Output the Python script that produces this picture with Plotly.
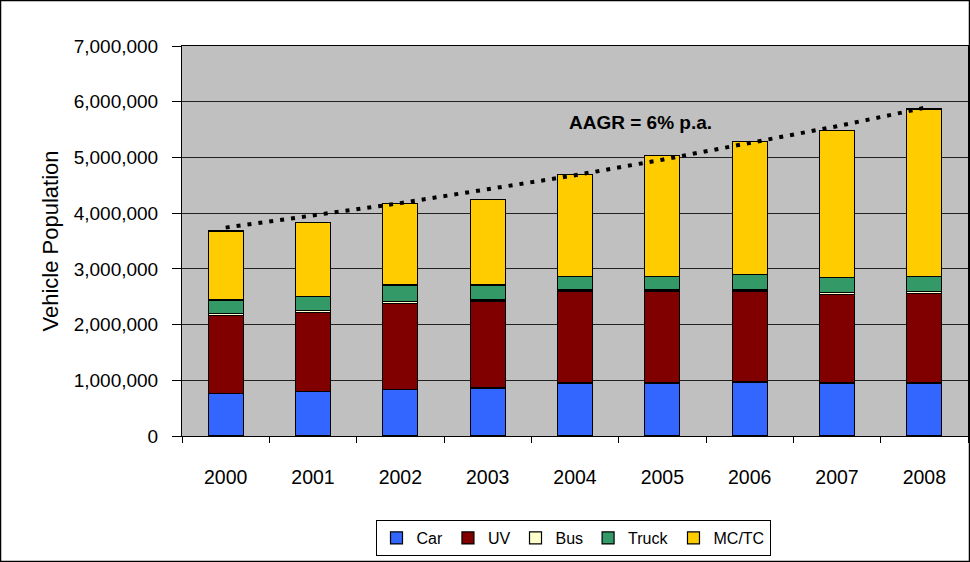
import plotly.graph_objects as go

years = ["2000", "2001", "2002", "2003", "2004", "2005", "2006", "2007", "2008"]
car = [770000, 800000, 830000, 860000, 950000, 950000, 970000, 950000, 950000]
uv = [1400000, 1420000, 1550000, 1550000, 1640000, 1640000, 1620000, 1590000, 1610000]
bus = [30000, 30000, 35000, 30000, 30000, 30000, 30000, 30000, 30000]
truck = [240000, 250000, 295000, 270000, 250000, 250000, 280000, 270000, 280000]
mctc = [1240000, 1330000, 1460000, 1540000, 1830000, 2160000, 2390000, 2650000, 3000000]
trend = [3740000, 3960000, 4180000, 4430000, 4680000, 4960000, 5260000, 5560000, 5890000]

series = [
    ("Car", car, "#3366FF"),
    ("UV", uv, "#800000"),
    ("Bus", bus, "#FFFFCC"),
    ("Truck", truck, "#339966"),
    ("MC/TC", mctc, "#FFCC00"),
]

FONT = "Arial, Liberation Sans, sans-serif"

fig = go.Figure()
for name, vals, col in series:
    fig.add_trace(go.Bar(
        x=years, y=vals, name=name,
        marker=dict(color=col, line=dict(color="black", width=1.2)),
    ))

fig.add_trace(go.Scatter(
    x=years, y=trend, mode="lines", showlegend=False,
    line=dict(color="black", width=4, dash="4px,7px"),
    hoverinfo="skip",
))

L, R, T, B = 182, 2, 46, 126
W, H = 970, 562
pw = W - L - R
ph = H - T - B

fig.update_layout(
    width=W, height=H,
    margin=dict(l=L, r=R, t=T, b=B),
    barmode="stack",
    bargap=0.6,
    plot_bgcolor="#C0C0C0",
    paper_bgcolor="white",
    font=dict(family=FONT, size=19, color="black"),
    legend=dict(
        orientation="h",
        x=(573 - L) / pw, xanchor="center",
        y=(436 - 538) / ph, yanchor="middle",
        bordercolor="black", borderwidth=1,
        font=dict(family=FONT, size=16, color="black"),
        itemwidth=30,
        traceorder="normal",
    ),
    xaxis=dict(
        showline=True, linecolor="black", linewidth=1, mirror=True,
        ticks="outside", tickson="boundaries", ticklen=6, tickcolor="black",
        tickfont=dict(size=19.5),
        ticklabelstandoff=24,
        showgrid=False,
    ),
    yaxis=dict(
        range=[0, 7000000], dtick=1000000, tickformat=",d",
        showline=True, linecolor="black", linewidth=1, mirror=True,
        ticks="outside", ticklen=9, tickcolor="black",
        ticklabelstandoff=10,
        gridcolor="#222222", gridwidth=1,
        tickfont=dict(size=19),
        title=dict(text="Vehicle Population", font=dict(size=22), standoff=8),
        zeroline=False,
    ),
    annotations=[dict(
        x=(640 - L) / pw, xref="paper", y=5620000, yref="y",
        text="<b>AAGR = 6% p.a.</b>", showarrow=False,
        font=dict(family=FONT, size=19, color="black"),
        xanchor="center", yanchor="middle",
    )],
    shapes=[dict(
        type="rect", xref="paper", yref="paper",
        x0=(0.5 - L) / pw, x1=(969.5 - L) / pw,
        y0=(436 - 561.5) / ph, y1=(436 - 0.5) / ph,
        line=dict(color="black", width=1.5), fillcolor="rgba(0,0,0,0)",
        layer="below",
    )],
)

fig.write_html(
    "out.html",
    config={"displayModeBar": False},
    post_script="document.body.style.margin='0';document.body.style.overflow='hidden';",
)
